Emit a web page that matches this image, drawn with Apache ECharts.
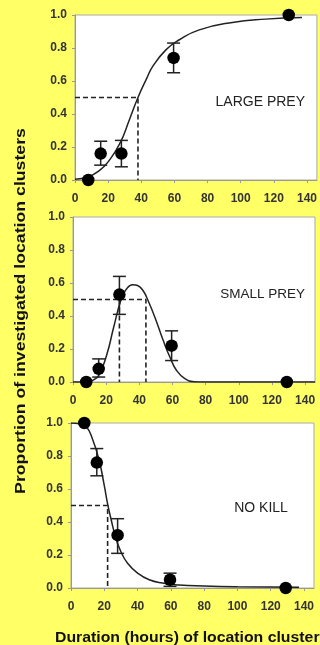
<!DOCTYPE html>
<html>
<head>
<meta charset="utf-8">
<script src="https://cdn.jsdelivr.net/npm/echarts@6/dist/echarts.min.js"></script>
<style>
  html, body { margin: 0; padding: 0; background: #ffff66; }
  #chart { width: 320px; height: 645px; }
</style>
</head>
<body>
<div id="chart"></div>
<script>
// observed points (same durations in every panel)
const durations = [8, 15.5, 28, 59.5, 129];
const xTicks = [0, 20, 40, 60, 80, 100, 120, 140];
const yTicks = [0, 0.2, 0.4, 0.6, 0.8, 1.0];

const largeProp = [0, 0.16, 0.16, 0.74, 1.0];
const largeLow = [null, 0.09, 0.08, 0.65, null];
const largeHigh = [null, 0.235, 0.24, 0.83, null];

const smallProp = [0, 0.08, 0.53, 0.22, 0];
const smallLow = [null, 0.03, 0.41, 0.13, null];
const smallHigh = [null, 0.14, 0.64, 0.31, null];

const noKillProp = [1.0, 0.76, 0.32, 0.05, 0];
const noKillLow = [null, 0.68, 0.21, 0.01, null];
const noKillHigh = [null, 0.845, 0.42, 0.09, null];

// fitted curves
const largeCurveX = [0, 8, 15, 20, 27, 33, 38, 43, 47, 55, 63, 75, 95, 115, 137];
const largeCurveY = [0.005, 0.02, 0.06, 0.11, 0.22, 0.37, 0.5, 0.61, 0.69, 0.79, 0.85, 0.91, 0.955, 0.975, 0.985];

const smallCurveX = [0, 8, 12, 16, 20.5, 24.5, 29, 32, 36, 39, 42.5, 45, 49.5, 54.5, 58.5, 62.5, 67.5, 73, 80, 146];
const smallCurveY = [0, 0, 0.01, 0.05, 0.17, 0.33, 0.5, 0.56, 0.59, 0.585, 0.55, 0.5, 0.39, 0.25, 0.15, 0.07, 0.02, 0.002, 0, 0];

const noKillCurveX = [0, 5, 9, 13, 17, 20, 22, 24, 27, 30, 34, 40, 47, 55, 65, 80, 100, 137];
const noKillCurveY = [1.0, 0.995, 0.98, 0.9, 0.77, 0.62, 0.51, 0.42, 0.3, 0.22, 0.15, 0.09, 0.05, 0.03, 0.018, 0.012, 0.008, 0.005];

// dashed guides at 0.5
const largeGuide = [[0, 0.5], [38, 0.5], [38, 0]];
const smallGuide = [[0, 0.5], [44, 0.5], [44, 0]];
const smallGuide2 = [[28, 0.5], [28, 0]];
const noKillGuide = [[0, 0.5], [22, 0.5], [22, 0]];

const panelLabels = ["LARGE PREY", "SMALL PREY", "NO KILL"];
const yTitle = "Proportion of investigated location clusters";
const xTitle = "Duration (hours) of location clusters";

const chart = echarts.init(document.getElementById("chart"));

const grids = [
  { left: 75, top: 15, width: 243, height: 165 },
  { left: 73, top: 217, width: 242, height: 165 },
  { left: 71, top: 423, width: 243, height: 165 },
];

const axisStyle = {
  axisLine: { show: true, lineStyle: { color: "#999", width: 1 } },
  axisTick: { show: true, inside: false, length: 3, lineStyle: { color: "#999" } },
  splitLine: { show: false },
};
const labelStyle = { fontSize: 12, fontWeight: "bold", color: "#333", fontFamily: "Liberation Sans, Arial" };

const pairs = (xs, ys) => xs.map((x, i) => [x, ys[i]]);
const errData = (lo, hi) =>
  durations.map((x, i) => [x, lo[i], hi[i]]).filter((d) => d[1] !== null);

function errorBars(idx, lo, hi) {
  return {
    type: "custom",
    xAxisIndex: idx,
    yAxisIndex: idx,
    z: 2,
    encode: { x: 0, y: [1, 2] },
    data: errData(lo, hi),
    renderItem: function (params, api) {
      const top = api.coord([api.value(0), api.value(2)]);
      const bot = api.coord([api.value(0), api.value(1)]);
      const w = 6.5;
      const st = { stroke: "#222", lineWidth: 1.5 };
      return {
        type: "group",
        children: [
          { type: "line", shape: { x1: top[0], y1: top[1], x2: bot[0], y2: bot[1] }, style: st },
          { type: "line", shape: { x1: top[0] - w, y1: top[1], x2: top[0] + w, y2: top[1] }, style: st },
          { type: "line", shape: { x1: bot[0] - w, y1: bot[1], x2: bot[0] + w, y2: bot[1] }, style: st },
        ],
      };
    },
  };
}
function curve(idx, xs, ys) {
  return {
    type: "line", xAxisIndex: idx, yAxisIndex: idx, z: 3,
    data: pairs(xs, ys), smooth: 0.5, showSymbol: false, symbol: "none",
    lineStyle: { color: "#222", width: 1.5 }, silent: true,
  };
}
function guide(idx, pts) {
  return {
    type: "line", xAxisIndex: idx, yAxisIndex: idx, z: 2,
    data: pts, symbol: "none",
    lineStyle: { color: "#222", width: 1.6, type: [5, 3] }, silent: true,
  };
}
function points(idx, ys) {
  return {
    type: "scatter", xAxisIndex: idx, yAxisIndex: idx, z: 4, clip: false,
    data: pairs(durations, ys), symbolSize: 12.5, itemStyle: { color: "#000", opacity: 1 },
  };
}

const option = {
  backgroundColor: "#ffff66",
  animation: false,
  grid: grids.map((g) => Object.assign({ show: true, backgroundColor: "#fff", borderColor: "#aaa", borderWidth: 1 }, g)),
  xAxis: grids.map((g, i) => Object.assign({
    type: "value", gridIndex: i, min: xTicks[0], max: 146, interval: xTicks[1] - xTicks[0],
    axisLabel: Object.assign({ margin: 13, showMaxLabel: false }, labelStyle),
  }, axisStyle)),
  yAxis: grids.map((g, i) => Object.assign({
    type: "value", gridIndex: i, min: yTicks[0], max: yTicks[yTicks.length - 1], interval: 0.2,
    axisLabel: Object.assign({ margin: 8, formatter: (v) => v.toFixed(1) }, labelStyle),
  }, axisStyle)),
  series: [
    errorBars(0, largeLow, largeHigh), guide(0, largeGuide), curve(0, largeCurveX, largeCurveY), points(0, largeProp),
    errorBars(1, smallLow, smallHigh), guide(1, smallGuide), guide(1, smallGuide2), curve(1, smallCurveX, smallCurveY), points(1, smallProp),
    errorBars(2, noKillLow, noKillHigh), guide(2, noKillGuide), curve(2, noKillCurveX, noKillCurveY), points(2, noKillProp),
  ],
  graphic: [
    { type: "text", x: 305, y: 102, style: { text: panelLabels[0], fontSize: 14, fontFamily: "Liberation Sans, Arial", fill: "#222", align: "right", textAlign: "right", verticalAlign: "middle", textVerticalAlign: "middle" } },
    { type: "text", x: 305, y: 294, style: { text: panelLabels[1], fontSize: 13.5, fontFamily: "Liberation Sans, Arial", fill: "#222", align: "right", textAlign: "right", verticalAlign: "middle", textVerticalAlign: "middle" } },
    { type: "text", x: 261, y: 508, style: { text: panelLabels[2], fontSize: 14, fontFamily: "Liberation Sans, Arial", fill: "#222", align: "center", textAlign: "center", verticalAlign: "middle", textVerticalAlign: "middle" } },
    { type: "text", x: 21, y: 311, rotation: Math.PI / 2, scaleX: 1.18,
      style: { text: yTitle, fontSize: 15, fontWeight: "bold", fontFamily: "Liberation Sans, Arial", fill: "#111", align: "center", textAlign: "center", verticalAlign: "middle", textVerticalAlign: "middle" } },
    { type: "text", x: 55, y: 638, scaleX: 1.13,
      style: { text: xTitle, fontSize: 14, fontWeight: "bold", fontFamily: "Liberation Sans, Arial", fill: "#111", align: "left", textAlign: "left", verticalAlign: "middle", textVerticalAlign: "middle" } },
  ],
};
chart.setOption(option);
</script>
</body>
</html>
